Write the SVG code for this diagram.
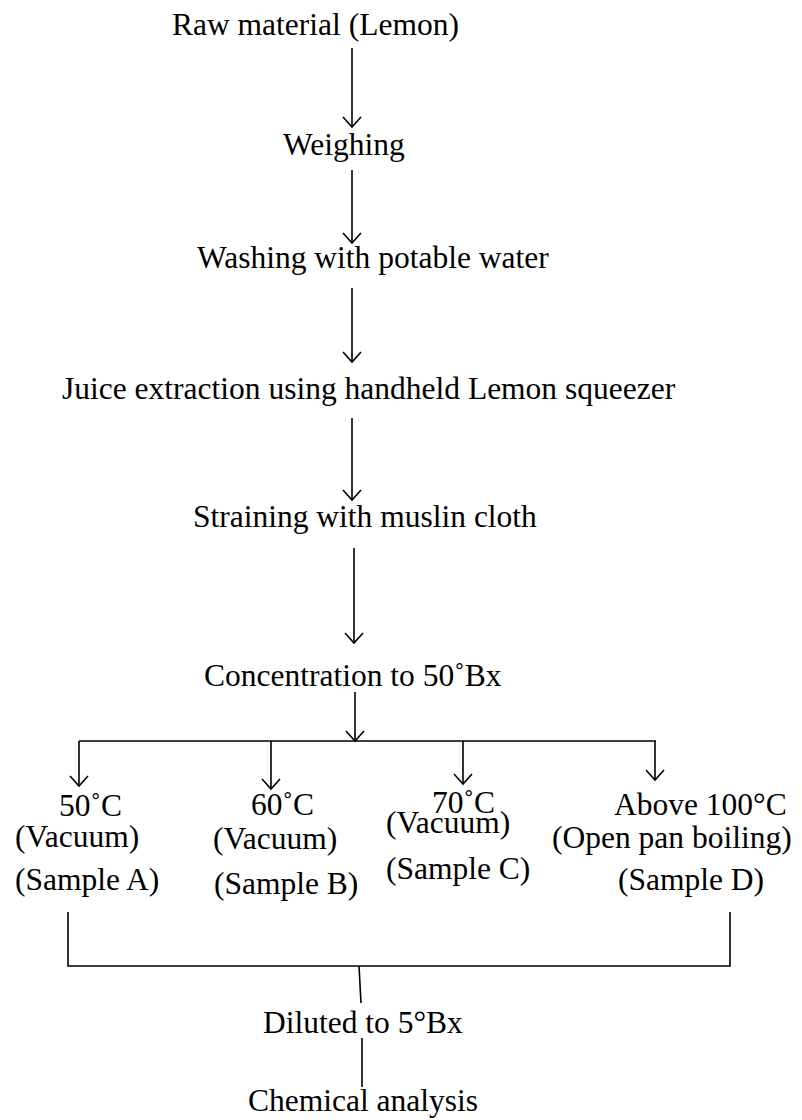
<svg xmlns="http://www.w3.org/2000/svg" width="802" height="1120" viewBox="0 0 802 1120">
<style>
text{font-family:"Liberation Serif","Times New Roman",serif;font-size:31.5px;fill:#000}
.c line,.c path{stroke:#000;stroke-width:1.6;fill:none}
</style>
<defs>
<marker id="ah" markerUnits="userSpaceOnUse" markerWidth="24" markerHeight="24" viewBox="-12 -12 24 24" refX="0" refY="0" orient="auto">
<path d="M-10,-9 L0,0 L-10,9" stroke="#000" stroke-width="1.6" fill="none"/>
</marker>
</defs>
<g id="n1"><text x="172" y="35">Raw material (Lemon)</text></g>
<g id="n2"><text x="283" y="155">Weighing</text></g>
<g id="n3"><text x="197" y="268">Washing with potable water</text></g>
<g id="n4"><text x="62" y="399">Juice extraction using handheld Lemon squeezer</text></g>
<g id="n5"><text x="193" y="527">Straining with muslin cloth</text></g>
<g id="n6"><text x="204" y="686">Concentration to 50˚Bx</text></g>
<g id="nA"><text x="59" y="816">50˚C</text><text x="15" y="847">(Vacuum)</text><text x="15" y="890">(Sample A)</text></g>
<g id="nB"><text x="251" y="815">60˚C</text><text x="213" y="849">(Vacuum)</text><text x="214" y="894">(Sample B)</text></g>
<g id="nC"><text x="432" y="813">70˚C</text><text x="386" y="833">(Vacuum)</text><text x="386" y="879">(Sample C)</text></g>
<g id="nD"><text x="614" y="815">Above 100°C</text><text x="552" y="848">(Open pan boiling)</text><text x="618" y="890">(Sample D)</text></g>
<g id="n7"><text x="263" y="1033">Diluted to 5°Bx</text></g>
<g id="n8"><text x="248" y="1111">Chemical analysis</text></g>
<g id="connectors" class="c">
<line x1="352" y1="48" x2="352" y2="127" marker-end="url(#ah)"/>
<line x1="352" y1="170" x2="352" y2="243" marker-end="url(#ah)"/>
<line x1="352" y1="288" x2="352" y2="362" marker-end="url(#ah)"/>
<line x1="352" y1="418" x2="352" y2="500" marker-end="url(#ah)"/>
<line x1="354" y1="548" x2="354" y2="643" marker-end="url(#ah)"/>
<line x1="355" y1="692" x2="355" y2="741" marker-end="url(#ah)"/>
<line x1="79" y1="741" x2="656" y2="741"/>
<line x1="79" y1="741" x2="79" y2="786" marker-end="url(#ah)"/>
<line x1="271" y1="741" x2="271" y2="789" marker-end="url(#ah)"/>
<line x1="463" y1="741" x2="463" y2="784" marker-end="url(#ah)"/>
<line x1="655" y1="741" x2="655" y2="780" marker-end="url(#ah)"/>
<path d="M68,912 V966 H730 V912"/>
<line x1="359" y1="966" x2="361" y2="1003"/>
<line x1="362" y1="1038" x2="362" y2="1087"/>
</g>
</svg>
